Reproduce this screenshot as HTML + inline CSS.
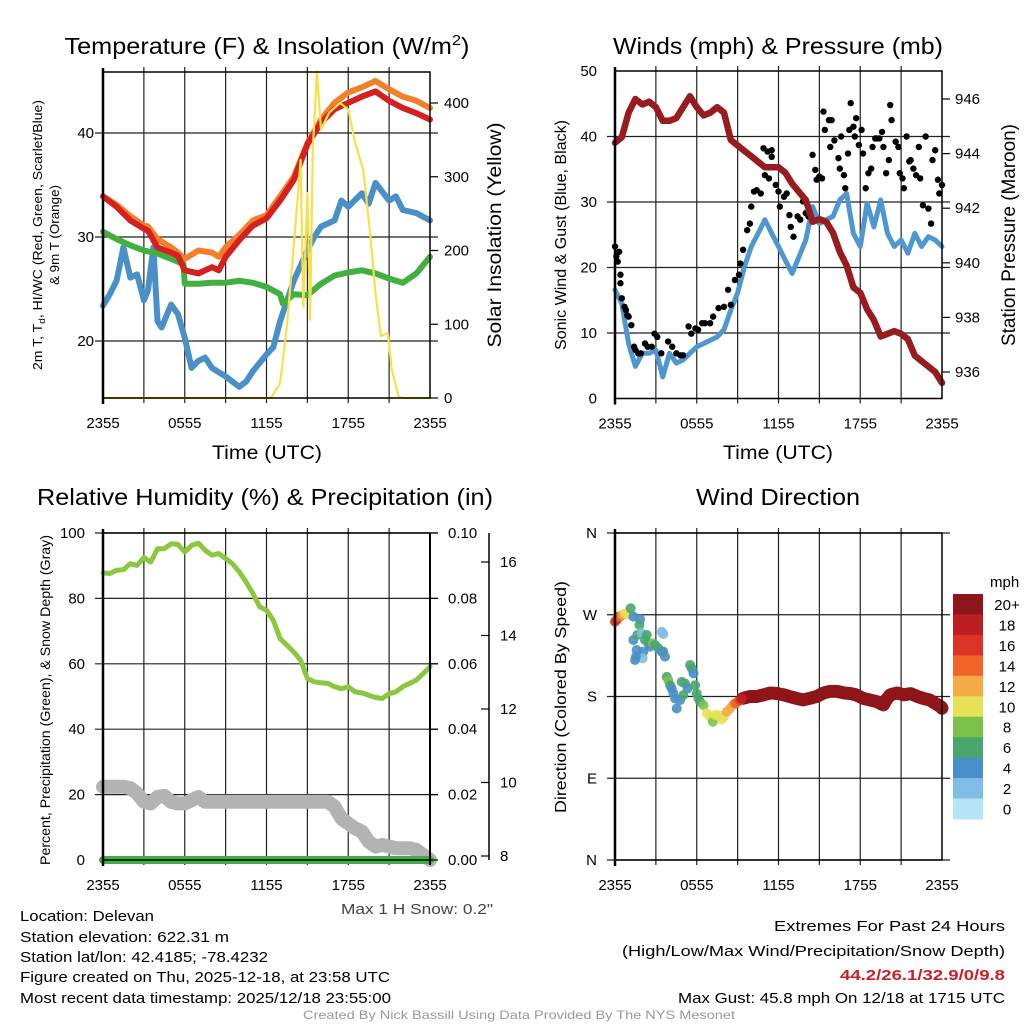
<!DOCTYPE html>
<html><head><meta charset="utf-8"><style>
html,body{margin:0;padding:0;background:#fff;}
svg{display:block;font-family:"Liberation Sans",sans-serif;}
</style></head><body>
<svg id="fig" width="1024" height="1024" viewBox="0 0 1024 1024">
<g id="layer-back"></g>
<g id="layer-data"></g>
<g id="layer-front"></g>
<g id="layer-text">
<text x="267" y="54" font-size="23" text-anchor="middle" textLength="405" lengthAdjust="spacingAndGlyphs">Temperature (F) &amp; Insolation (W/m<tspan dy="-9" font-size="15">2</tspan><tspan dy="9">)</tspan></text>
<text x="778" y="54" font-size="23" text-anchor="middle" textLength="330" lengthAdjust="spacingAndGlyphs">Winds (mph) &amp; Pressure (mb)</text>
<text x="265" y="505" font-size="23" text-anchor="middle" textLength="456" lengthAdjust="spacingAndGlyphs">Relative Humidity (%) &amp; Precipitation (in)</text>
<text x="778" y="505" font-size="23" text-anchor="middle" textLength="164" lengthAdjust="spacingAndGlyphs">Wind Direction</text>
<text x="267" y="459" font-size="19" text-anchor="middle" textLength="110" lengthAdjust="spacingAndGlyphs">Time (UTC)</text>
<text x="778" y="459" font-size="19" text-anchor="middle" textLength="110" lengthAdjust="spacingAndGlyphs">Time (UTC)</text>
<text transform="translate(42,235) rotate(-90)" font-size="12.5" text-anchor="middle" textLength="270" lengthAdjust="spacingAndGlyphs">2m T, T<tspan font-size="9" dy="3">d</tspan><tspan dy="-3">, HI/WC (Red, Green, Scarlet/Blue)</tspan></text>
<text transform="translate(59,235) rotate(-90)" font-size="12.5" text-anchor="middle" textLength="100" lengthAdjust="spacingAndGlyphs">&amp; 9m T (Orange)</text>
<text transform="translate(501,235) rotate(-90)" font-size="19" text-anchor="middle" textLength="225" lengthAdjust="spacingAndGlyphs">Solar Insolation (Yellow)</text>
<text transform="translate(566,235) rotate(-90)" font-size="16" text-anchor="middle" textLength="230" lengthAdjust="spacingAndGlyphs">Sonic Wind &amp; Gust (Blue, Black)</text>
<text transform="translate(1015,235) rotate(-90)" font-size="19" text-anchor="middle" textLength="222" lengthAdjust="spacingAndGlyphs">Station Pressure (Maroon)</text>
<text transform="translate(50,700) rotate(-90)" font-size="14" text-anchor="middle" textLength="330" lengthAdjust="spacingAndGlyphs">Percent, Precipitation (Green), &amp; Snow Depth (Gray)</text>
<text transform="translate(566,697) rotate(-90)" font-size="16" text-anchor="middle" textLength="232" lengthAdjust="spacingAndGlyphs">Direction (Colored By Speed)</text>
<text x="493" y="914" font-size="15" text-anchor="end" textLength="152" lengthAdjust="spacingAndGlyphs" fill="#444">Max 1 H Snow: 0.2"</text>
<g font-size="15">
<text x="20" y="921" textLength="134" lengthAdjust="spacingAndGlyphs">Location: Delevan</text>
<text x="20" y="942" textLength="209" lengthAdjust="spacingAndGlyphs">Station elevation: 622.31 m</text>
<text x="20" y="962" textLength="248" lengthAdjust="spacingAndGlyphs">Station lat/lon: 42.4185; -78.4232</text>
<text x="20" y="982" textLength="370" lengthAdjust="spacingAndGlyphs">Figure created on Thu, 2025-12-18, at 23:58 UTC</text>
<text x="20" y="1003" textLength="371" lengthAdjust="spacingAndGlyphs">Most recent data timestamp: 2025/12/18 23:55:00</text>
</g>
<g font-size="15" text-anchor="end">
<text x="1005" y="931" textLength="231" lengthAdjust="spacingAndGlyphs">Extremes For Past 24 Hours</text>
<text x="1005" y="956" textLength="383" lengthAdjust="spacingAndGlyphs">(High/Low/Max Wind/Precipitation/Snow Depth)</text>
<text x="1005" y="980" font-weight="bold" fill="#cc2027" textLength="165" lengthAdjust="spacingAndGlyphs">44.2/26.1/32.9/0/9.8</text>
<text x="1005" y="1003" textLength="327" lengthAdjust="spacingAndGlyphs">Max Gust: 45.8 mph On 12/18 at 1715 UTC</text>
</g>
<text x="519" y="1019" font-size="12" text-anchor="middle" fill="#999" textLength="432" lengthAdjust="spacingAndGlyphs">Created By Nick Bassill Using Data Provided By The NYS Mesonet</text>
</g>
</svg>
<script>
// ---------- data (hours since 2355 UTC) ----------
const xTickLabels = ["2355","0555","1155","1755","2355"];
const tempT = [0,1,2,3,3.3,4,5,5.5,6,7,8,8.5,9,10,11,12,13,14,15,16,17,18,19,20,21,22,23,24];
const tempRed = [33.9,32.9,31.6,30.8,30.6,29.0,28.5,28.2,26.8,26.5,27.1,26.8,28.1,29.7,31.1,31.8,33.5,35.5,38.9,41.0,42.3,42.9,43.5,44.0,43.1,42.4,41.9,41.3];
const tempOrange = [33.9,33.1,32.0,31.1,31.0,29.8,29.0,28.5,27.9,28.7,28.5,28.1,29.0,30.2,31.6,32.1,33.9,35.8,39.0,41.3,42.9,43.9,44.4,45.0,44.2,43.5,43.1,42.4];
const dewT = [0,1,2,3,4,5,5.9,6,7,8,9,10,11,12,13,13.2,14,15,16,17,18,19,20,21,22,23,24];
const dewGreen = [30.5,29.8,29.2,28.7,28.4,27.9,27.4,25.5,25.5,25.6,25.6,25.8,25.6,25.2,24.5,23.6,24.5,24.4,25.5,26.3,26.6,26.8,26.5,26.0,25.6,26.5,28.1];
const wcT = [0,0.5,1,1.5,2,2.5,3,3.3,3.7,4,4.3,5,5.5,6,6.5,7,7.5,8,9,10,10.5,11,12,12.5,13,14,15,15.5,16,17,17.5,18,19,19.5,20,21,21.5,22,23,24];
const wcBlue = [23.4,24.5,25.8,29.0,26.1,26.4,23.9,24.9,29.0,21.9,21.3,23.5,22.6,20.3,17.4,18.1,18.4,17.4,16.6,15.6,16.1,17.1,18.7,19.4,21.9,25.8,28.7,30.0,31.0,31.6,33.5,32.9,34.2,33.2,35.2,33.5,33.9,32.6,32.3,31.6];
const solarT = [0,12.3,12.5,13,13.5,14.2,14.5,14.7,15,15.2,15.4,15.7,16,16.6,17.4,18,18.5,19.1,19.6,20,20.4,20.9,21.2,21.7,22,24];
const solarW = [0,0,5,20,97,251,323,124,278,106,337,443,364,387,400,391,346,310,224,142,84,88,38,2,0,0];

const windT = [0,0.5,1,1.5,2,2.5,3,3.5,4,4.5,5,5.5,6,6.5,7,7.5,8,8.5,9,9.5,10,10.5,11,11.5,12,12.5,13,13.5,14,14.5,15,15.5,16,16.5,17,17.5,18,18.5,19,19.5,20,20.5,21,21.5,22,22.5,23,23.5,24];
const windBlue = [16.6,14.5,8.4,4.9,6.9,6.9,7.4,3.3,6.9,5.4,5.9,6.9,7.9,8.4,8.9,9.4,10.5,13.5,16.1,20.1,23.2,25.2,27.3,25.2,23.2,21.1,19.1,21.6,24.2,29.3,26.7,27.3,27.8,30.3,31.3,25.2,23.2,29.8,26.2,30.3,25.2,23.2,24.2,22.2,25.2,23.2,24.7,24.2,23.2];
const pressT = windT;
const pressMb = [944.4,944.6,945.5,946.0,945.8,945.9,945.7,945.2,945.2,945.3,945.7,946.1,945.7,945.4,945.5,945.7,945.5,944.5,944.3,944.1,943.9,943.7,943.5,943.5,943.5,943.3,942.9,942.6,942.3,941.5,941.6,941.5,941.1,940.4,939.9,939.1,938.9,938.3,937.9,937.3,937.4,937.5,937.4,937.2,936.6,936.4,936.2,936.0,935.6];
const gustT = [0,0.1,0.3,0.2,0.4,0.4,0.5,0.7,0.8,0.9,1.0,1.2,1.4,1.5,1.7,1.9,2.2,2.4,2.7,2.9,3.1,3.4,3.9,4.2,4.5,4.8,5.0,5.4,5.6,5.9,6.1,6.4,6.6,6.98,7.2,7.6,8.0,8.3,8.5,8.8,9.1,9.2,9.4,9.7,9.9,10.0,10.2,10.4,10.7,10.9,11.2,11.5,11.0,11.3,11.5,11.8,12.0,12.1,12.4,12.6,12.8,12.9,13.1,13.4,13.6,13.8,14.0,14.2,14.5,14.7,14.8,15.0,15.2,15.3,15.4,15.7,15.8,15.9,16.1,16.4,16.5,16.6,16.8,16.9,17.1,17.2,17.3,17.5,17.6,17.7,17.9,18.1,18.2,18.4,18.6,18.8,18.9,19.1,19.2,19.4,19.6,19.7,19.9,20.1,20.2,20.3,20.6,20.8,20.9,21.1,21.2,21.4,21.6,21.7,21.9,22.1,22.3,22.4,22.6,22.8,23.0,23.2,23.3,23.5,23.7,23.8,24.0];
const gustV = [23.2,21.7,22.4,20.9,18.9,17.6,15.3,14.0,13.5,12.7,12.5,11.2,7.9,7.4,6.9,6.9,8.4,7.9,7.9,9.9,9.4,6.9,8.7,7.9,6.9,6.6,6.6,11.0,9.9,10.7,10.5,11.5,11.5,11.5,12.5,13.8,14.0,16.6,14.3,18.1,18.9,20.6,22.7,25.7,26.7,29.3,31.6,31.8,31.3,38.2,37.7,36.9,34.1,33.6,37.9,32.6,31.6,29.3,30.8,31.3,28.0,26.2,24.7,27.8,27.3,30.1,28.3,27.8,37.2,34.9,33.4,33.9,33.6,43.8,41.0,42.5,38.4,42.5,39.4,36.7,35.1,40.0,34.1,32.1,37.4,41.0,45.1,41.5,40.0,42.8,38.7,41.0,37.4,32.1,34.4,35.1,38.4,39.7,39.7,39.7,40.7,38.4,34.4,36.4,44.8,42.5,39.2,38.4,34.4,33.6,32.1,40.0,36.2,36.4,35.1,34.1,38.4,33.6,29.5,40.0,29.0,26.7,36.4,37.9,33.4,31.3,32.6,35.1,31.3,32.6,30.1,35.1,36.2,32.6,29.3];

const rhT = [0,0.5,1,1.5,2,2.5,3,3.5,4,4.5,5,5.5,6,6.5,7,7.5,8,8.5,9,9.5,10,10.5,11,11.5,12,12.5,13,13.5,14,14.5,15,15.5,16,16.5,17,17.5,18,18.5,19,19.5,20,20.5,21,21.5,22,22.5,23,23.5,24];
const rhPct = [87.8,87.6,88.6,88.8,90.6,90.1,92.5,91.1,95.2,95.2,96.7,96.5,94.2,96.2,96.9,94.7,93.2,93.7,92.2,90.6,88.1,85.0,81.5,77.4,76.4,73.3,67.7,65.7,63.6,61.1,55.5,54.5,54.2,54.0,53.0,52.4,53.0,51.4,51.1,50.4,49.7,49.4,50.9,51.4,53.0,54.0,55.0,57.0,59.1];
const snowT = [0,1.5,2,2.5,3,3.5,4,4.5,5,5.5,6,6.5,7,7.5,8,16.5,17,17.5,18,18.5,19,19.5,20,20.5,21,21.5,22,22.5,23,23.5,24];
const snowDepth = [22.4,22.4,22.0,20.4,17.8,17.3,19.3,19.6,17.8,17.3,17.3,18.3,19.3,17.8,17.8,17.8,16.3,12.7,11.2,9.7,8.7,5.6,4.1,4.6,4.1,3.6,3.6,3.6,3.1,1.5,0.0];
const precipT = [0,24];
const precipIn = [0,0];

const dirT = [0,0.12,0.24,0.37,0.56,0.73,0.98,1.15,1.35,1.84,1.79,1.35,1.64,1.96,2.33,2.2,2.45,2.57,2.77,2.94,3.18,3.43,3.55,3.67,3.55,3.43,2.08,2.03,1.54,1.47,1.59,3.8,3.92,4.04,4.16,4.29,4.41,4.53,4.78,4.9,5.14,5.32,5.02,5.51,5.63,5.76,5.88,6.0,6.12,6.25,6.49,6.74,6.98,7.18,7.35,7.59,7.83,8.0,8.2,8.45,8.65,8.82,9.0,9.18,9.31];
const dirDeg = [262.4,264.2,268,268,269.8,271.6,269.8,277.1,268,265,258.8,242.2,247.7,249.5,247.7,242.2,238.6,234.9,238.6,236.7,233.1,251.3,248.8,223.9,229.4,229.4,229.4,222.1,223.9,220.2,231.2,201.6,197.9,192.4,188.8,183.3,177.8,166.8,176,196.1,194.3,188.8,181.5,214.7,211.0,205.5,192.4,183.3,177.8,174.2,170.5,161.4,157.7,152.2,159.5,159.5,154.8,157.7,163.2,166.8,170.5,172.4,174.2,176,177.8];
const dirSpd = [17,16,15,14,12,11,10,7,5,4,7,4,6,3,6,7,6,5,8,7,7,2,2,5,6,5,5,2,4,4,4,6,8,7,5,4,5,4,5,6,6,4,6,7,6,5,6,7,6,6,9,10,10,8,10,10,10,11,12,13,13,14,15,17,18];
const bandT = [9.4,9.9,10.4,10.9,11.4,11.9,12.4,12.8,13.3,13.8,14.3,14.8,15.3,15.8,16.3,16.8,17.3,17.7,18.2,18.7,19.2,19.7,19.9,20.2,20.7,21.2,21.7,22.2,22.6,23.1,23.5,23.9,24.0];
const bandDeg = [178.0,180.0,180.0,181.8,183.9,183.2,181.8,180.0,178.0,176.2,178.0,180.0,183.9,185.7,185.7,183.9,183.2,181.8,178.0,176.2,174.4,170.7,176.2,181.8,183.9,181.8,183.2,180.0,178.0,176.2,172.5,168.9,167.1];
const bandSpd = [22,23,24,25,25,24,24,23,23,24,25,25,26,26,25,25,25,24,24,24,23,23,23,24,24,24,24,24,23,23,23,22,22];
const speedLevels = ["20+","18","16","14","12","10","8","6","4","2","0"];
const speedColors = ["#8e1519","#bb1e23","#dc3326","#f0642a","#f5aa45","#e6e157","#7cc24a","#4aa56e","#4a8fc7","#7fbde6","#b8e4f8"];

// ---------- helpers ----------
const NS = "http://www.w3.org/2000/svg";
const back = document.getElementById("layer-back");
const dataL = document.getElementById("layer-data");
const front = document.getElementById("layer-front");
function mk(tag, attrs, parent) {
  const e = document.createElementNS(NS, tag);
  for (const k in attrs) e.setAttribute(k, attrs[k]);
  parent.appendChild(e);
  return e;
}
function lin(d0, d1, r0, r1) { return v => r0 + (v - d0) / (d1 - d0) * (r1 - r0); }

// panel geometry
const P1 = {x0:103,x1:430,y0:72,y1:398};
const P2 = {x0:615,x1:942,y0:71,y1:398.5};
const P3 = {x0:103,x1:430,y0:533,y1:860};
const P4 = {x0:615,x1:942,y0:533,y1:860};

function frame(P, name, hLines) {
  const xs = lin(0,24,P.x0,P.x1);
  for (let h = 3; h < 24; h += 3) {
    const l = mk("line",{x1:xs(h),x2:xs(h),y1:P.y0-5,y2:P.y1+5,stroke:"#222","stroke-width":1.2},back);
    
    
  }
  hLines.forEach(y => {
    const l = mk("line",{x1:P.x0-8,x2:P.x1+8,y1:y,y2:y,stroke:"#222","stroke-width":1.2},back);
    
    
  });
  const r = mk("rect",{x:P.x0,y:P.y0,width:P.x1-P.x0,height:P.y1-P.y0,fill:"none",stroke:"#000","stroke-width":1.5},front);
  
  
  const lft = mk("line",{x1:P.x0,x2:P.x0,y1:P.y0-4,y2:P.y1+6,stroke:"#000","stroke-width":2.5},front);
  
  
  xTickLabels.forEach((lab,i) => {
    const t = mk("text",{x:xs(i*6),y:P.y1+30,"font-size":15,"text-anchor":"middle"},front);
    t.textContent = lab;
    
    
  });
  return xs;
}
function yTicks(vals, labels, ys, x, anchor, name, tickX, dir) {
  vals.forEach((v,i) => {
    const t = mk("text",{x:x,y:ys(v)+5,"font-size":15,"text-anchor":anchor},front);
    t.textContent = labels[i];
    
    
    if (tickX !== undefined) {
      const l = mk("line",{x1:tickX,x2:tickX+dir*8,y1:ys(v),y2:ys(v),stroke:"#000","stroke-width":1.2},front);
      
      
    }
  });
}
function path(T, V, xs, ys, color, w, name, layer) {
  const d = T.map((t,i) => (i?"L":"M") + xs(t).toFixed(1) + "," + ys(V[i]).toFixed(1)).join("");
  const p = mk("path",{d:d,fill:"none",stroke:color,"stroke-width":w,"stroke-linejoin":"round","stroke-linecap":"round"},layer||dataL);
  
  
  return p;
}
function speedColor(s) {
  if (s >= 20) return speedColors[0];
  const idx = 10 - Math.floor(s/2);
  return speedColors[Math.max(1, Math.min(10, idx))];
}

// ---------- panel 1 ----------
const t1y = lin(20,40,341,133);
const s1y = lin(0,400,398,103);
const x1s = frame(P1, "temperature-panel", [t1y(20),t1y(30),t1y(40)]);
yTicks([20,30,40],["20","30","40"],t1y,94,"end","temperature-y-tick");
yTicks([0,100,200,300,400],["0","100","200","300","400"],s1y,444,"start","insolation-y-tick",P1.x1,1);
path(wcT, wcBlue, x1s, t1y, "#4a90c8", 6, "windchill-line");
path(dewT, dewGreen, x1s, t1y, "#42b040", 6, "dewpoint-line");
path(tempT, tempOrange, x1s, t1y, "#f47f2a", 6, "temp-9m-line");
path(tempT, tempRed, x1s, t1y, "#d62020", 6, "temp-2m-line");
path(solarT, solarW, x1s, s1y, "#f7e04a", 2.2, "insolation-line");

// ---------- panel 2 ----------
const w2y = lin(0,50,398.5,71);
const p2y = lin(936,946,372,99);
const x2s = frame(P2, "winds-panel", [w2y(10),w2y(20),w2y(30),w2y(40)]);
yTicks([0,10,20,30,40,50],["0","10","20","30","40","50"],w2y,597,"end","wind-y-tick");
yTicks([936,938,940,942,944,946],["936","938","940","942","944","946"],p2y,955,"start","pressure-y-tick",P2.x1,1);
path(windT, windBlue, x2s, w2y, "#4f97d0", 5, "sonic-wind-line");
gustT.forEach((t,i) => {
  const c = mk("circle",{cx:x2s(t),cy:w2y(gustV[i]),r:3.2,fill:"#000"},dataL);
  
  
});
path(pressT, pressMb, x2s, p2y, "#981b1e", 6.5, "pressure-line");

// ---------- panel 3 ----------
const h3y = lin(0,100,860,533);
const sd3y = lin(8,16,856,562);
const x3s = frame(P3, "humidity-panel", [h3y(20),h3y(40),h3y(60),h3y(80),h3y(100)]);
yTicks([0,20,40,60,80,100],["0","20","40","60","80","100"],h3y,85,"end","humidity-y-tick");
yTicks([0,20,40,60,80,100],["0.00","0.02","0.04","0.06","0.08","0.10"],h3y,448,"start","precip-y-tick",P3.x1,1);
const snowAx = mk("line",{x1:489,x2:489,y1:533,y2:860,stroke:"#000","stroke-width":1.5},front);


yTicks([8,10,12,14,16],["8","10","12","14","16"],sd3y,500,"start","snow-depth-y-tick",489,-1);
const rl = mk("line",{x1:P3.x1,x2:P3.x1,y1:533,y2:865,stroke:"#000","stroke-width":2},front);


path(snowT, snowDepth, x3s, h3y, "#b3b3b3", 14, "snow-depth-line");
path(precipT, precipIn.map(v=>v*1000), x3s, h3y, "#3fae45", 8, "precipitation-line");
path(rhT, rhPct, x3s, h3y, "#8cc83f", 5, "humidity-line");

// ---------- panel 4 ----------
const d4y = lin(0,360,860,533);
const x4s = frame(P4, "direction-panel", [d4y(0),d4y(90),d4y(180),d4y(270),d4y(360)]);
yTicks([0,90,180,270,360],["N","E","S","W","N"],d4y,597,"end","direction-y-tick");
function dot(t,d,s,r) {
  const c = mk("circle",{cx:x4s(t),cy:d4y(d),r:r,fill:speedColor(s),"fill-opacity":0.9},dataL);
  
  
}
bandT.forEach((t,i) => dot(t,bandDeg[i],bandSpd[i],6.5));
for (let i=0;i<bandT.length-1;i++) {
  for (let k=1;k<4;k++) {
    const f=k/4;
    dot(bandT[i]+(bandT[i+1]-bandT[i])*f, bandDeg[i]+(bandDeg[i+1]-bandDeg[i])*f, bandSpd[i], 6.5);
  }
}
dirT.forEach((t,i) => dot(t,dirDeg[i],dirSpd[i],5));

// colorbar
const cbTop = 594, cbH = 20.45;
const mph = mk("text",{x:990,y:587,"font-size":15},front);
mph.textContent = "mph";


speedLevels.forEach((lab,i) => {
  const r = mk("rect",{x:953,y:cbTop+i*cbH,width:30,height:cbH+0.5,fill:speedColors[i]},front);
  
  
  const t = mk("text",{x:1007,y:cbTop+i*cbH+16,"font-size":15,"text-anchor":"middle"},front);
  t.textContent = lab;
  
  
});
</script>
</body></html>
